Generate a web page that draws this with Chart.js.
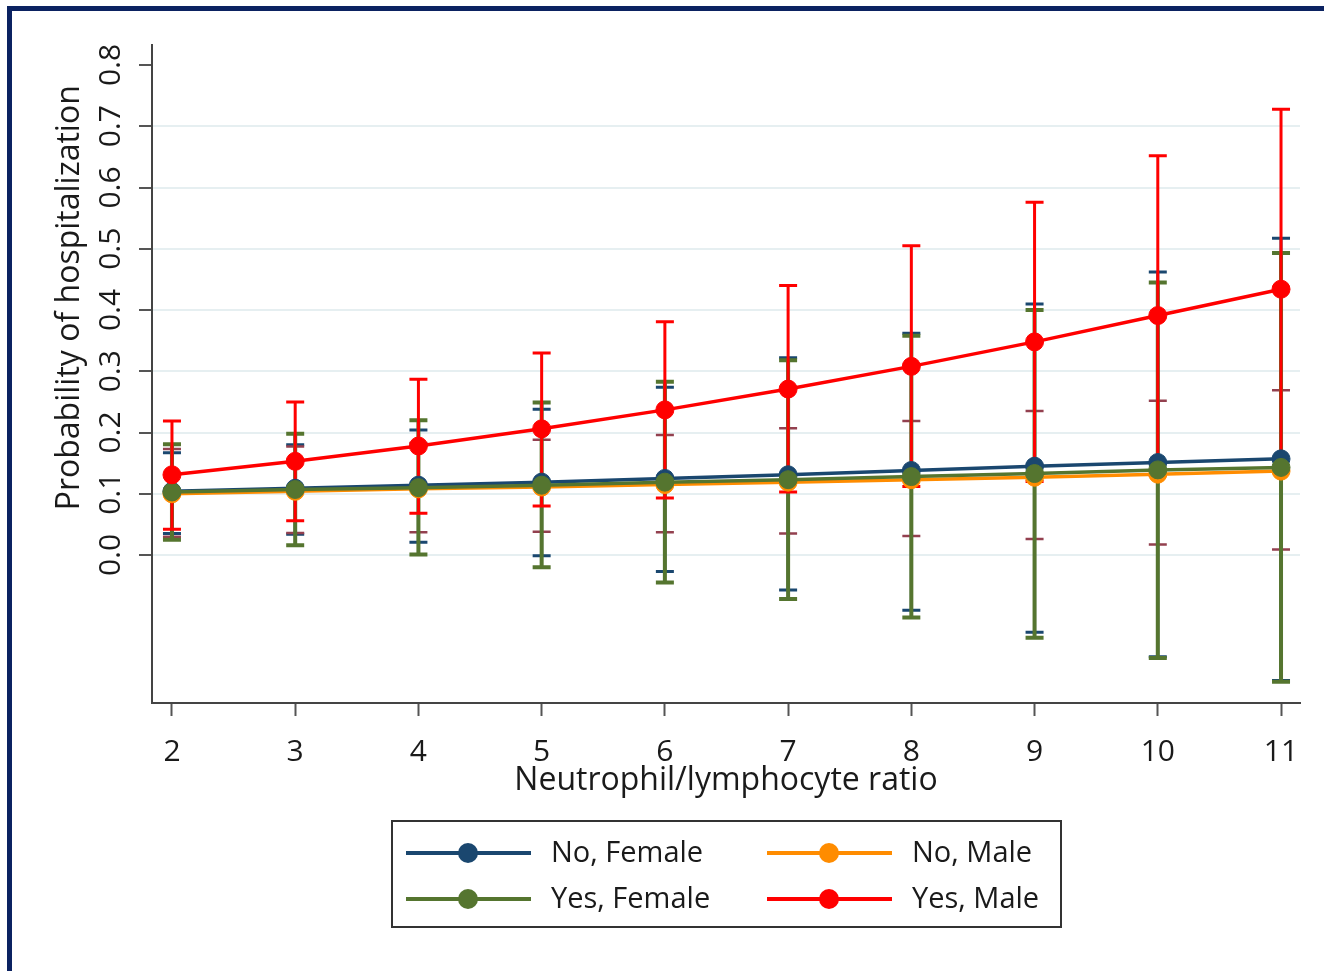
<!DOCTYPE html>
<html>
<head>
<meta charset="utf-8">
<script src="https://cdn.jsdelivr.net/npm/chart.js@4.4.1/dist/chart.umd.min.js"></script>
<style>
  body { margin: 0; background: #fff; overflow: hidden; }
  #wrap { position: relative; width: 1324px; height: 971px; }
  #frame { position: absolute; left: 7px; top: 6px; right: -30px; bottom: -30px; border: 5px solid #0b2261; pointer-events: none; }
  canvas { position: absolute; left: 0; top: 0; }
  #legend { position: absolute; left: 391px; top: 820px; width: 667px; height: 104px; border: 2px solid #333; font: 29px "Open Sans", sans-serif; color: #1a1a1a; }
  .item { position: absolute; height: 30px; }
  .item .ln { position: absolute; left: 0; top: 13px; width: 125px; height: 4px; }
  .item .dot { position: absolute; left: 52px; top: 5px; width: 20px; height: 20px; border-radius: 50%; }
  .item .tx { position: absolute; left: 145px; top: -7px; white-space: nowrap; }
</style>
</head>
<body>
<div id="wrap">
  <canvas id="chart" width="1324" height="971"></canvas>
  <div id="frame"></div>
  <div id="legend"></div>
</div>
<script>
const nlr = [2, 3, 4, 5, 6, 7, 8, 9, 10, 11];
const yTicks = [0, 0.1, 0.2, 0.3, 0.4, 0.5, 0.6, 0.7, 0.8];

const noFemale   = [0.104, 0.109, 0.114, 0.119, 0.125, 0.131, 0.138, 0.145, 0.151, 0.157];
const noFemaleLo = [0.035, 0.034, 0.021, -0.001, -0.027, -0.057, -0.090, -0.126, -0.166, -0.205];
const noFemaleHi = [0.167, 0.180, 0.204, 0.238, 0.274, 0.322, 0.362, 0.410, 0.462, 0.517];

const noMale   = [0.100, 0.104, 0.108, 0.111, 0.115, 0.119, 0.123, 0.127, 0.132, 0.137];
const noMaleLo = [0.030, 0.036, 0.037, 0.038, 0.037, 0.035, 0.031, 0.026, 0.017, 0.009];
const noMaleHi = [0.173, 0.177, 0.183, 0.188, 0.196, 0.207, 0.219, 0.235, 0.252, 0.269];

const yesFemale   = [0.103, 0.107, 0.110, 0.114, 0.119, 0.123, 0.128, 0.133, 0.139, 0.143];
const yesFemaleLo = [0.025, 0.016, 0.001, -0.020, -0.045, -0.072, -0.102, -0.135, -0.168, -0.207];
const yesFemaleHi = [0.181, 0.198, 0.220, 0.249, 0.283, 0.318, 0.358, 0.400, 0.445, 0.493];

const yesMale   = [0.131, 0.153, 0.178, 0.206, 0.237, 0.271, 0.308, 0.348, 0.391, 0.434];
const yesMaleLo = [0.042, 0.056, 0.068, 0.080, 0.093, 0.103, 0.112, 0.120, 0.130, 0.140];
const yesMaleHi = [0.219, 0.250, 0.287, 0.330, 0.381, 0.440, 0.505, 0.576, 0.652, 0.728];

const FONT = '"Open Sans", sans-serif';
const series = [
  { label: 'No, Female',  data: noFemale,  lo: noFemaleLo,  hi: noFemaleHi,  color: '#1a476f', ci: '#1a476f', order: 2, ciw: 3 },
  { label: 'No, Male',    data: noMale,    lo: noMaleLo,    hi: noMaleHi,    color: '#ff8c00', ci: '#93404f', order: 3, ciw: 2.5 },
  { label: 'Yes, Female', data: yesFemale, lo: yesFemaleLo, hi: yesFemaleHi, color: '#55752f', ci: '#55752f', order: 1, ciw: 4 },
  { label: 'Yes, Male',   data: yesMale,   lo: yesMaleLo,   hi: yesMaleHi,   color: '#ff0000', ci: '#ff0000', order: 0, ciw: 3 }
];

// error bars, drawn under the lines
const errorBars = {
  id: 'errorBars',
  beforeDatasetsDraw(chart) {
    const ctx = chart.ctx, xs = chart.scales.x, ys = chart.scales.y;
    ctx.save();
    series.forEach(s => {
      ctx.strokeStyle = s.ci;
      ctx.lineWidth = s.ciw;
      nlr.forEach((v, i) => {
        const x = xs.getPixelForValue(v);
        const y1 = ys.getPixelForValue(s.lo[i]);
        const y2 = ys.getPixelForValue(s.hi[i]);
        ctx.beginPath();
        ctx.moveTo(x, y1); ctx.lineTo(x, y2);
        ctx.moveTo(x - 9, y1); ctx.lineTo(x + 9, y1);
        ctx.moveTo(x - 9, y2); ctx.lineTo(x + 9, y2);
        ctx.stroke();
      });
    });
    ctx.restore();
  }
};

// axis texts
const axisText = {
  id: 'axisText',
  afterDraw(chart) {
    const ctx = chart.ctx, xs = chart.scales.x, ys = chart.scales.y, ca = chart.chartArea;
    ctx.save();
    ctx.fillStyle = '#1a1a1a';
    ctx.font = '30px ' + FONT;
    ctx.textAlign = 'center';
    ctx.textBaseline = 'middle';
    yTicks.forEach(t => {
      ctx.save();
      ctx.translate(110, ys.getPixelForValue(t));
      ctx.rotate(-Math.PI / 2);
      ctx.fillText(t.toFixed(1), 0, 1);
      ctx.restore();
    });
    ctx.textBaseline = 'alphabetic';
    nlr.forEach(v => ctx.fillText(String(v), xs.getPixelForValue(v), 761));
    ctx.font = '32px ' + FONT;
    ctx.fillText('Neutrophil/lymphocyte ratio', (ca.left + ca.right) / 2, 790);
    ctx.save();
    ctx.translate(79, ys.getPixelForValue(0.42));
    ctx.rotate(-Math.PI / 2);
    ctx.fillText('Probability of hospitalization', 0, 0);
    ctx.restore();
    ctx.restore();
  }
};

new Chart(document.getElementById('chart'), {
  type: 'line',
  data: {
    datasets: series.map(s => ({
      label: s.label,
      data: nlr.map((x, i) => ({ x: x, y: s.data[i] })),
      borderColor: s.color,
      backgroundColor: s.color,
      pointBackgroundColor: s.color,
      pointBorderColor: s.color,
      borderWidth: 3.5,
      pointRadius: 9,
      pointBorderWidth: 1,
      tension: 0,
      order: s.order
    }))
  },
  options: {
    responsive: false,
    animation: false,
    events: [],
    layout: { padding: { left: 0, top: 45, right: 24, bottom: 0 } },
    plugins: { legend: { display: false }, tooltip: { enabled: false } },
    scales: {
      x: {
        type: 'linear',
        min: 1.838,
        max: 11.154,
        afterFit: s => { s.height = 268; },
        afterBuildTicks: s => { s.ticks = nlr.map(v => ({ value: v })); },
        ticks: { display: false },
        grid: { drawOnChartArea: false, drawTicks: true, tickLength: 13, tickColor: '#555', tickWidth: 2 },
        border: { color: '#444', width: 2 }
      },
      y: {
        min: -0.2416,
        max: 0.8327,
        afterFit: s => { s.width = 152; },
        afterBuildTicks: s => { s.ticks = yTicks.map(v => ({ value: v })); },
        ticks: { display: false },
        grid: {
          color: c => (c.tick && c.tick.value > 0.75) ? 'rgba(0,0,0,0)' : '#e6eff1',
          lineWidth: 2,
          drawTicks: true,
          tickLength: 13,
          tickColor: '#555',
          tickWidth: 2
        },
        border: { color: '#444', width: 2 }
      }
    }
  },
  plugins: [errorBars, axisText]
});

// legend, two columns
const legend = document.getElementById('legend');
const pos = [[13, 16], [374, 16], [13, 62], [374, 62]];
series.forEach((s, i) => {
  const it = document.createElement('div');
  it.className = 'item';
  it.style.left = pos[i][0] + 'px';
  it.style.top = pos[i][1] + 'px';
  it.innerHTML = '<div class="ln" style="background:' + s.color + '"></div>' +
    '<div class="dot" style="background:' + s.color + '"></div>' +
    '<div class="tx">' + s.label + '</div>';
  legend.appendChild(it);
});
</script>
</body>
</html>
